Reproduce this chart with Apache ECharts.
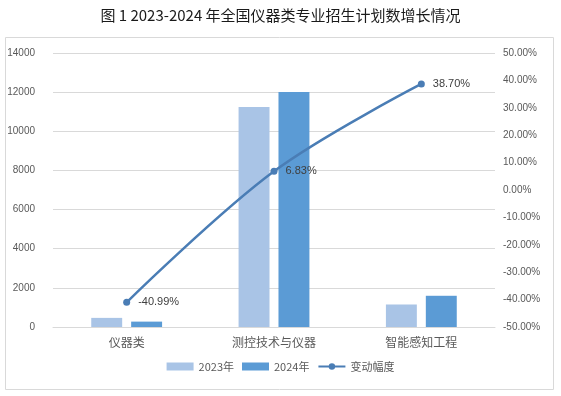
<!DOCTYPE html>
<html><head><meta charset="utf-8">
<script src="https://cdn.jsdelivr.net/npm/echarts@6/dist/echarts.min.js"></script>
<style>html,body{margin:0;padding:0;background:#fff}#c{width:561px;height:396px}</style>
</head><body><div id="c"></div>
<script>
const categories = ['仪器类', '测控技术与仪器', '智能感知工程'];
const values2023 = [466, 11240, 1150];
const values2024 = [275, 12008, 1595];
const changeRate = [-40.99, 6.83, 38.70];
const leftTicks = {min: 0, max: 14000, interval: 2000};
const rightTicks = {min: -50, max: 50, interval: 10};

const chart = echarts.init(document.getElementById('c'), null, {renderer: 'canvas'});
const axisFont = {color: '#595959', fontSize: 10, fontFamily: 'Liberation Sans'};
chart.setOption({
  animation: false,
  title: {
    text: '图 1 2023-2024 年全国仪器类专业招生计划数增长情况',
    left: 'center', top: 3,
    textStyle: {fontSize: 15, fontWeight: 'normal', color: '#1a1a1a', fontFamily: 'Noto Sans CJK SC'}
  },
  graphic: [{type: 'rect', shape: {x: 5.5, y: 37.5, width: 548, height: 352}, style: {fill: 'none', stroke: '#D9D9D9', lineWidth: 1}, silent: true, z: -1}],
  grid: {left: 53, right: 66, top: 53, bottom: 69},
  legend: {
    bottom: 19, left: 'center', itemGap: 8, itemWidth: 27, itemHeight: 8,
    textStyle: {color: '#595959', fontSize: 11, fontFamily: 'Noto Sans CJK SC'},
    data: [{name: '2023年', icon: 'rect'}, {name: '2024年', icon: 'rect'}, {name: '变动幅度'}]
  },
  xAxis: {
    type: 'category', data: categories,
    axisLine: {lineStyle: {color: '#D9D9D9'}}, axisTick: {show: false},
    axisLabel: {color: '#595959', fontSize: 12, margin: 9, fontFamily: 'Noto Sans CJK SC'}
  },
  yAxis: [{
    type: 'value', min: leftTicks.min, max: leftTicks.max, interval: leftTicks.interval,
    axisLine: {show: false}, axisTick: {show: false},
    splitLine: {lineStyle: {color: '#D9D9D9'}},
    axisLabel: Object.assign({margin: 18, formatter: v => String(v)}, axisFont)
  }, {
    type: 'value', min: rightTicks.min, max: rightTicks.max, interval: rightTicks.interval,
    axisLine: {show: false}, axisTick: {show: false}, splitLine: {show: false},
    axisLabel: Object.assign({margin: 8, formatter: v => v.toFixed(2) + '%'}, axisFont)
  }],
  series: [{
    name: '2023年', type: 'bar', data: values2023, barWidth: '21%', barGap: '29%',
    itemStyle: {color: '#A9C4E6'}
  }, {
    name: '2024年', type: 'bar', data: values2024, barWidth: '21%',
    itemStyle: {color: '#5B9BD5'}
  }, {
    name: '变动幅度', type: 'line', yAxisIndex: 1, data: changeRate, smooth: 0.35,
    symbol: 'circle', symbolSize: 7,
    lineStyle: {color: '#4A7DB5', width: 2.5}, itemStyle: {color: '#4A7DB5'},
    label: {show: true, position: 'right', distance: 8, color: '#404040', fontSize: 11, fontFamily: 'Liberation Sans',
      formatter: p => p.value.toFixed(2) + '%'}
  }]
});
</script></body></html>
